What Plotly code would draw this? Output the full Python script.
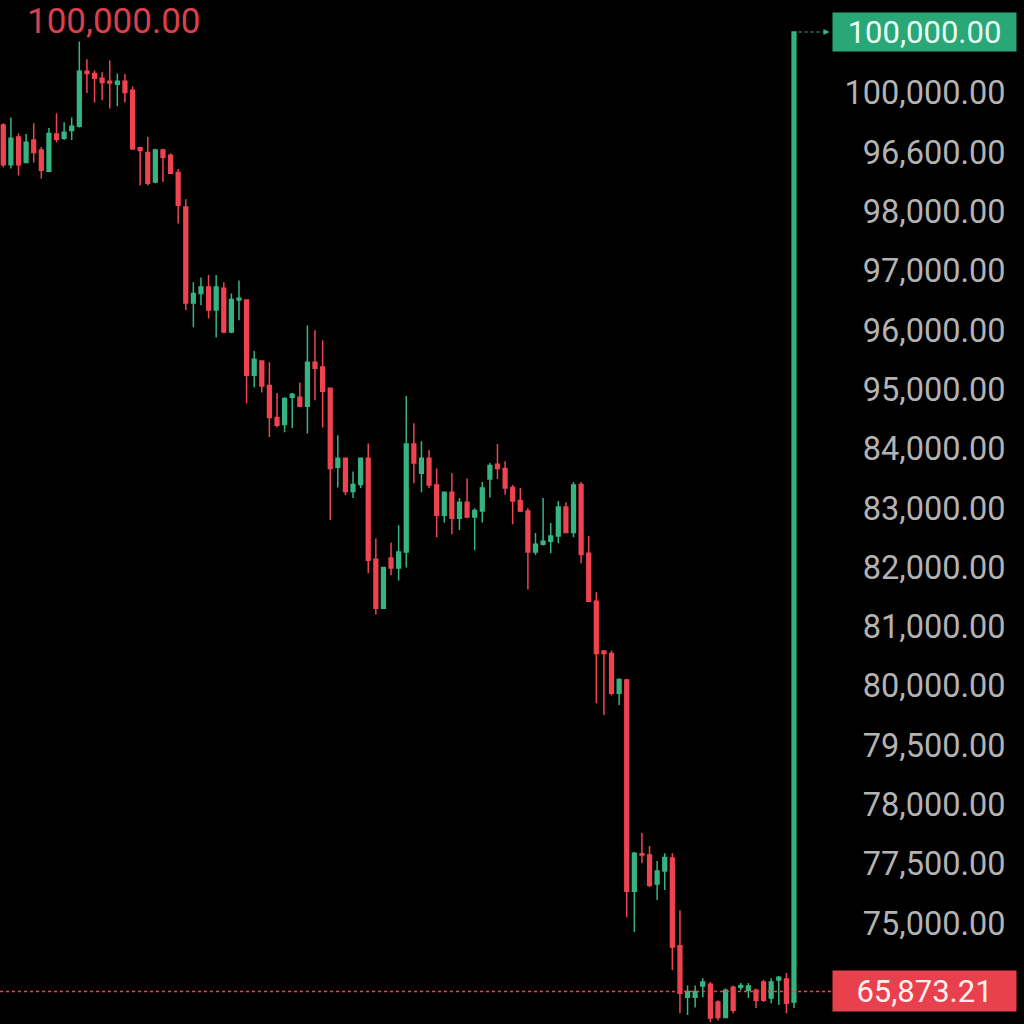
import plotly.graph_objects as go

# ---- data (price levels on the chart's evenly spaced label scale: 0 = bottom label, 14 = top label)
candle_index = list(range(105))

opens = [13.46, 12.79, 13.26, 12.83, 13.21, 13.04, 12.68, 13.31, 13.24, 13.37,
         13.44, 14.37, 14.33, 14.25, 14.20, 14.15, 14.20, 14.05, 13.08, 13.00,
         12.50, 13.04, 12.95, 12.66, 12.08, 10.46, 10.62, 10.73, 10.34, 10.71,
         9.97, 10.51, 10.51, 9.24, 9.48, 9.07, 8.53, 8.41, 8.87, 8.87,
         8.72, 9.46, 9.38, 9.02, 7.69, 7.84, 7.28, 7.40, 7.84, 6.14,
         5.31, 6.16, 5.99, 6.26, 8.08, 7.59, 7.84, 7.39, 6.88, 7.27,
         6.83, 7.10, 6.85, 6.95, 7.49, 7.74, 7.67, 7.35, 7.13, 6.95,
         6.26, 6.39, 6.44, 6.53, 7.02, 6.59, 7.40, 6.24, 5.43, 4.59,
         4.55, 3.88, 4.10, 0.54, 1.17, 1.15, 0.66, 0.88, 1.10, -0.38,
         -1.25, -1.25, -1.06, -1.03, -1.33, -1.59, -1.08, -1.08, -1.13, -1.13,
         -0.99, -1.26, -0.96, -0.94, -1.33]

highs = [13.49, 13.59, 13.32, 13.31, 13.49, 13.09, 13.41, 13.66, 13.51, 13.59,
         14.87, 14.57, 14.38, 14.35, 14.55, 14.33, 14.32, 14.11, 13.08, 13.26,
         13.06, 13.06, 12.98, 12.72, 12.21, 10.81, 10.89, 10.93, 10.93, 10.81,
         10.62, 10.84, 10.51, 9.65, 9.48, 9.46, 8.94, 8.87, 8.94, 9.12,
         10.08, 10.00, 9.83, 9.02, 8.23, 7.84, 7.62, 7.84, 8.09, 6.49,
         6.00, 6.42, 6.71, 8.89, 8.43, 8.13, 7.98, 7.67, 7.27, 7.59,
         7.17, 7.50, 7.00, 7.44, 7.76, 8.08, 7.79, 7.39, 7.34, 7.00,
         6.58, 7.17, 6.75, 7.12, 7.10, 7.44, 7.44, 6.53, 5.58, 4.60,
         4.60, 4.13, 4.12, 1.20, 1.52, 1.30, 1.05, 1.18, 1.18, 0.22,
         -1.05, -1.05, -0.93, -0.99, -1.30, -1.10, -1.05, -1.01, -1.01, -1.10,
         -0.96, -0.93, -0.89, -0.84, 15.03]

lows = [12.75, 12.73, 12.61, 12.82, 12.83, 12.56, 12.68, 13.17, 13.21, 13.21,
        13.42, 14.00, 13.84, 13.88, 13.74, 13.78, 13.84, 13.04, 12.44, 12.44,
        12.48, 12.50, 12.65, 11.80, 10.34, 10.05, 10.42, 10.20, 9.88, 9.95,
        9.95, 10.17, 8.77, 9.04, 8.95, 8.20, 8.36, 8.28, 8.35, 8.70,
        8.26, 8.82, 8.36, 6.80, 7.35, 7.22, 7.17, 7.34, 5.90, 5.21,
        5.30, 5.87, 5.78, 6.00, 7.42, 7.27, 7.34, 6.51, 6.76, 6.56,
        6.63, 6.83, 6.29, 6.76, 7.18, 7.49, 7.23, 6.73, 6.93, 5.63,
        6.21, 6.37, 6.24, 6.41, 6.58, 6.51, 6.07, 5.43, 3.71, 3.51,
        3.84, 3.68, 0.10, -0.15, 1.01, 0.61, 0.39, 0.56, -0.79, -1.52,
        -1.55, -1.42, -1.25, -1.67, -1.64, -1.60, -1.52, -1.13, -1.26, -1.43,
        -1.33, -1.35, -1.38, -1.52, -1.43]

closes = [12.79, 13.24, 12.79, 13.17, 13.00, 12.70, 13.32, 13.22, 13.34, 13.44,
          14.37, 14.33, 14.25, 14.18, 14.17, 14.20, 14.01, 13.06, 13.03, 12.48,
          13.04, 12.92, 12.65, 12.11, 10.46, 10.62, 10.73, 10.34, 10.73, 9.97,
          10.52, 10.54, 9.24, 9.51, 9.06, 8.53, 8.40, 8.85, 8.92, 8.72,
          9.46, 9.36, 8.97, 7.67, 7.84, 7.28, 7.40, 7.84, 6.12, 5.31,
          6.00, 5.99, 6.26, 8.08, 7.76, 7.84, 7.39, 6.88, 7.27, 6.83,
          7.10, 6.85, 6.96, 7.34, 7.72, 7.67, 7.34, 7.12, 6.95, 6.26,
          6.39, 6.44, 6.53, 7.02, 6.59, 7.39, 6.22, 5.43, 4.55, 4.55,
          3.88, 4.11, 0.54, 1.18, 1.15, 0.64, 0.88, 1.11, -0.40, -1.18,
          -1.15, -1.15, -0.99, -1.60, -1.59, -1.13, -1.47, -1.05, -1.06, -1.30,
          -1.30, -0.99, -0.91, -1.35, 15.03]

tick_levels = [14, 13, 12, 11, 10, 9, 8, 7, 6, 5, 4, 3, 2, 1, 0]
tick_labels = ["100,000.00", "96,600.00", "98,000.00", "97,000.00", "96,000.00",
               "95,000.00", "84,000.00", "83,000.00", "82,000.00", "81,000.00",
               "80,000.00", "79,500.00", "78,000.00", "77,500.00", "75,000.00"]

high_marker_text = "100,000.00"
last_box_text = "100,000.00"
current_price_text = "65,873.21"
current_price_level = -1.15

GREEN = "#35b481"
RED = "#ef4450"
FONT = "Roboto, Arial, sans-serif"

fig = go.Figure()
fig.add_trace(go.Candlestick(
    x=candle_index, open=opens, high=highs, low=lows, close=closes,
    increasing=dict(line=dict(color=GREEN, width=1.5), fillcolor=GREEN),
    decreasing=dict(line=dict(color=RED, width=1.5), fillcolor=RED),
    whiskerwidth=0, hoverinfo="skip", showlegend=False,
))

plot_right = 0.8125

# current price dotted line
fig.add_shape(type="line", xref="paper", yref="y", x0=0, x1=plot_right,
              y0=current_price_level, y1=current_price_level,
              line=dict(color=RED, width=1.5, dash="dot"))

# dashed pointer from last candle to green price box
fig.add_shape(type="line", xref="x", yref="y", x0=candle_index[-1] + 0.6, x1=candle_index[-1] + 4.2,
              y0=closes[-1], y1=closes[-1],
              line=dict(color=GREEN, width=1.2, dash="dot"))
fig.add_annotation(xref="paper", yref="y", x=0.810, y=closes[-1], ax=-5, ay=0,
                   text="", showarrow=True, arrowhead=2, arrowsize=1,
                   arrowwidth=1.2, arrowcolor=GREEN)

# green last-value box
fig.add_annotation(xref="paper", yref="y", x=0.993, y=closes[-1],
                   xanchor="right", yanchor="middle", text=last_box_text,
                   showarrow=False, bgcolor="#2aa776", borderpad=3,
                   width=177, height=32, align="center",
                   font=dict(family=FONT, size=31, color="#eafff5"))

# red current price box
fig.add_annotation(xref="paper", yref="y", x=0.993, y=current_price_level,
                   xanchor="right", yanchor="middle", text=current_price_text,
                   showarrow=False, bgcolor="#e9404d", borderpad=3,
                   width=177, height=34, align="center",
                   font=dict(family=FONT, size=31, color="#fff0f0"))

# top-left high marker text
fig.add_annotation(xref="paper", yref="paper", x=0.025, y=1.0,
                   xanchor="left", yanchor="top", text=high_marker_text,
                   showarrow=False, borderpad=0,
                   font=dict(family=FONT, size=35, color="#d9404b"))

fig.update_layout(
    width=1024, height=1024, autosize=False,
    margin=dict(l=0, r=0, t=0, b=0),
    paper_bgcolor="#000000", plot_bgcolor="#000000",
    boxgap=0.3, showlegend=False,
    xaxis=dict(domain=[0, plot_right], range=[-0.434, 109.0],
               rangeslider=dict(visible=False), visible=False,
               showgrid=False, zeroline=False),
    yaxis=dict(range=[-1.70, 15.57], anchor="free", position=0.982, side="left",
               tickmode="array", tickvals=tick_levels, ticktext=tick_labels,
               showgrid=False, zeroline=False, showline=False, ticks="",
               tickfont=dict(family=FONT, size=32.5, color="#b3b3b3")),
)

fig.write_html(
    "out.html",
    config={"displayModeBar": False},
    post_script="document.body.style.margin='0';document.body.style.background='#000';",
)
